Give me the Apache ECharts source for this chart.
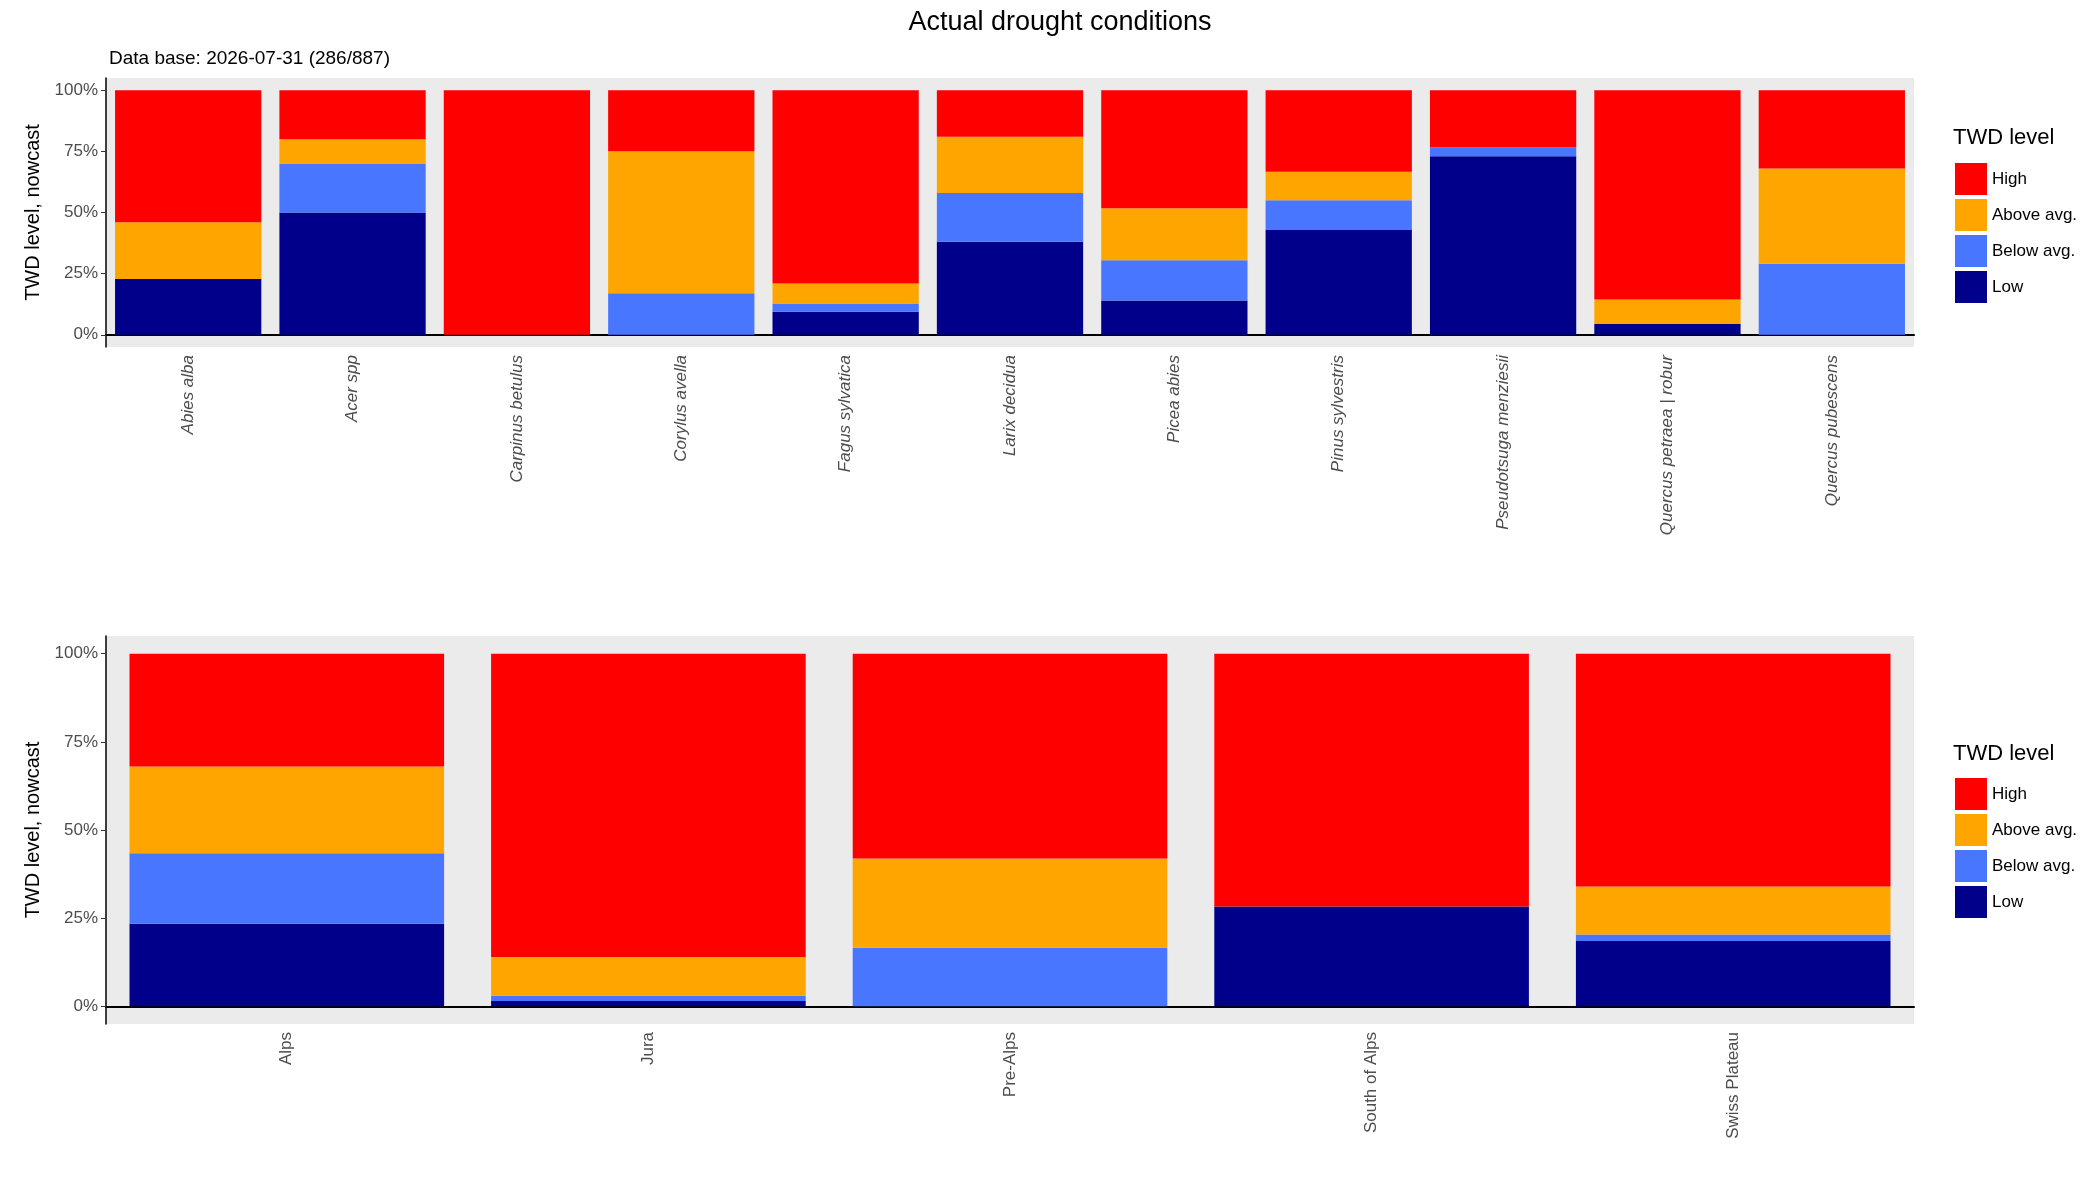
<!DOCTYPE html>
<html><head><meta charset="utf-8">
<script src="https://cdn.jsdelivr.net/npm/echarts@6/dist/echarts.min.js"></script>
<style>html,body{margin:0;padding:0;background:#fff}#c{width:2100px;height:1200px}</style>
</head><body><div id="c"></div>
<script>
// species panel (segment sizes, %)
var species = ['Abies alba','Acer spp','Carpinus betulus','Corylus avella','Fagus sylvatica','Larix decidua','Picea abies','Pinus sylvestris','Pseudotsuga menziesii','Quercus petraea | robur','Quercus pubescens'];
var spLow   = [22.8, 50, 0, 0, 9.4, 38, 14, 43, 73, 4.5, 0];
var spBelow = [0, 20, 0, 17, 3.4, 20, 16.5, 12, 3.7, 0, 29];
var spAbove = [23.2, 10, 0, 58, 8.2, 23, 21.2, 11.7, 0, 9.9, 39];
var spHigh  = [54, 20, 100, 25, 79, 19, 48.3, 33.3, 23.3, 85.6, 32];
// region panel
var regions = ['Alps','Jura','Pre-Alps','South of Alps','Swiss Plateau'];
var rgLow   = [23.4, 1.5, 0, 28.3, 18.5];
var rgBelow = [20, 1.5, 16.6, 0, 1.9];
var rgAbove = [24.6, 11, 25.3, 0, 13.6];
var rgHigh  = [32, 86, 58.1, 71.7, 66];
var levels = ['High','Above avg.','Below avg.','Low'];
var colors = {'High':'#ff0000','Above avg.':'#ffa500','Below avg.':'#4876ff','Low':'#00008b'};

var chart = echarts.init(document.getElementById('c'));
var ticks = [0,25,50,75,100];
function yAx(gi){
  return {gridIndex:gi,type:'value',min:-5,max:105,
    name:'TWD level, nowcast',nameLocation:'middle',nameGap:58,nameRotate:90,
    nameTextStyle:{fontSize:20,color:'#000',fontFamily:'Liberation Sans'},
    splitLine:{show:false},
    axisLine:{show:true,lineStyle:{color:'#000',width:1.5}},
    axisTick:{show:true,customValues:ticks,lineStyle:{color:'#333'}},
    axisLabel:{customValues:ticks,formatter:'{value}%',fontSize:17,color:'#4d4d4d',fontFamily:'Liberation Sans'}};
}
function xAx(gi,data,italic){
  return {gridIndex:gi,type:'category',data:data,
    axisLine:{lineStyle:{color:'#000',width:2}},
    axisTick:{alignWithLabel:true,lineStyle:{color:'#333'}},
    axisLabel:{rotate:90,fontSize:17,color:'#4d4d4d',fontStyle:italic?'italic':'normal',fontFamily:'Liberation Sans'}};
}
function mk(gi,name,data,gap){
  return {name:name,type:'bar',stack:'s'+gi,xAxisIndex:gi,yAxisIndex:gi,data:data,
    barCategoryGap:gap,itemStyle:{color:colors[name]}};
}
var series = [];
var sp = {'Low':spLow,'Below avg.':spBelow,'Above avg.':spAbove,'High':spHigh};
var rg = {'Low':rgLow,'Below avg.':rgBelow,'Above avg.':rgAbove,'High':rgHigh};
['Low','Below avg.','Above avg.','High'].forEach(function(n){
  series.push(mk(0,n,sp[n],'11%'));
  series.push(mk(1,n,rg[n],'13%'));
});
function leg(top){
  return {data:levels,orient:'vertical',left:1950,top:top,itemWidth:32,itemHeight:32,itemGap:4,
    icon:'rect',textStyle:{fontSize:17,color:'#000',fontFamily:'Liberation Sans'}};
}
chart.setOption({
  animation:false,
  title:[
    {text:'Actual drought conditions',left:1055,top:4,textAlign:'center',textStyle:{fontSize:27,fontWeight:'normal',color:'#000',fontFamily:'Liberation Sans'}},
    {text:'Data base: 2026-07-31 (286/887)',left:104,top:44,textStyle:{fontSize:19,fontWeight:'normal',color:'#000',fontFamily:'Liberation Sans'}},
    {text:'TWD level',left:1948,top:122,textStyle:{fontSize:22,fontWeight:'normal',color:'#000',fontFamily:'Liberation Sans'}},
    {text:'TWD level',left:1948,top:738,textStyle:{fontSize:22,fontWeight:'normal',color:'#000',fontFamily:'Liberation Sans'}}
  ],
  legend:[leg(158),leg(773)],
  grid:[
    {left:106,width:1808,top:78,height:269,show:true,backgroundColor:'#ebebeb',borderWidth:0},
    {left:106,width:1808,top:636,height:388,show:true,backgroundColor:'#ebebeb',borderWidth:0}
  ],
  xAxis:[xAx(0,species,true),xAx(1,regions,false)],
  yAxis:[yAx(0),yAx(1)],
  series:series
});
</script></body></html>
